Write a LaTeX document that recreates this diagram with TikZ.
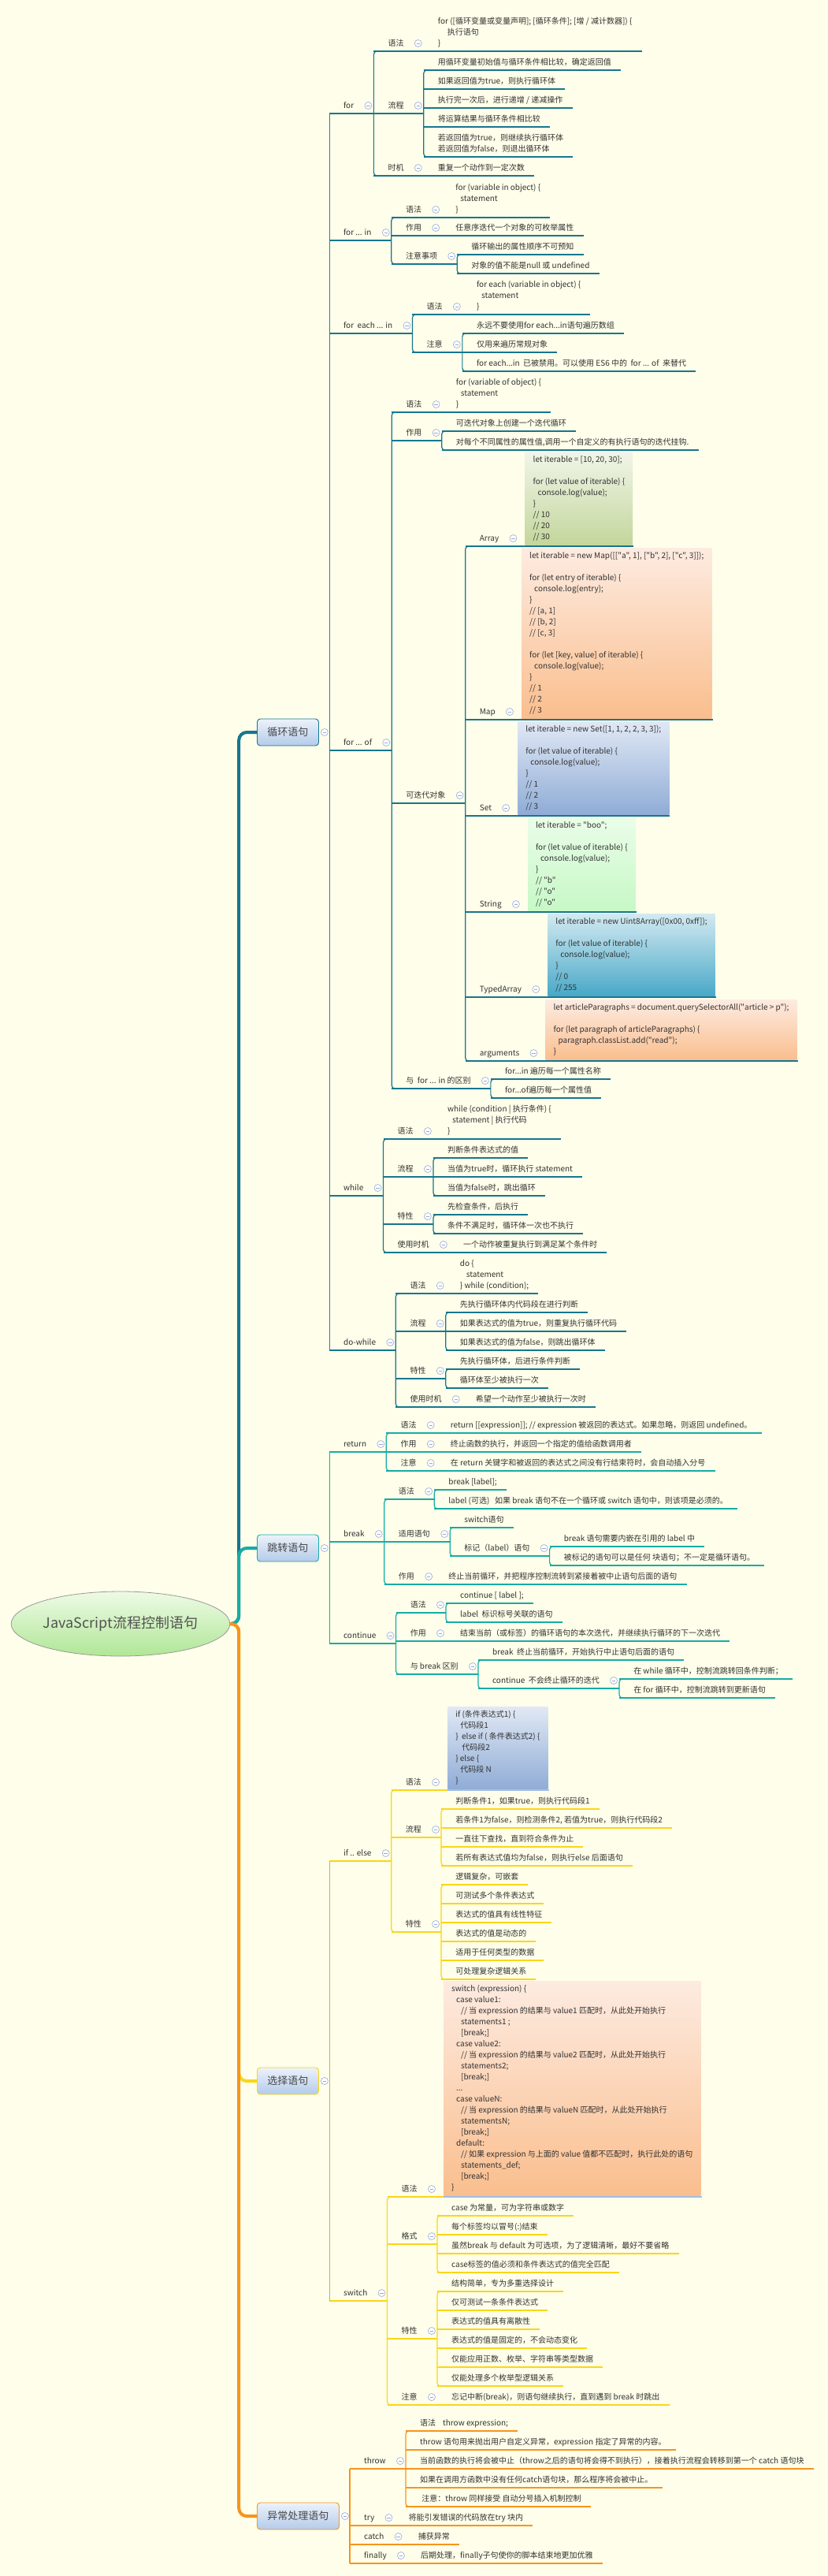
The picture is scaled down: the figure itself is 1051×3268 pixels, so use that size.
\documentclass[tikz,border=0pt]{standalone}
\usepackage{fontspec}
\setmainfont{Noto Sans CJK SC}[Ligatures=TeXOff]
\usetikzlibrary{shapes.geometric}

\definecolor{bgc}{RGB}{254,254,234}
\definecolor{txtc}{RGB}{50,50,50}
\definecolor{loopc}{RGB}{22,118,142}
\definecolor{jumpc}{RGB}{22,172,164}
\definecolor{selc}{RGB}{250,214,24}
\definecolor{excc}{RGB}{247,148,29}
\definecolor{codeul}{RGB}{160,190,228}
\definecolor{btnc}{RGB}{150,168,215}
\definecolor{catT}{RGB}{236,242,251}
\definecolor{catB}{RGB}{180,203,233}
\definecolor{rootT}{RGB}{238,251,230}
\definecolor{rootB}{RGB}{176,230,150}
\colorlet{brc}{loopc}

\newcommand{\mmstrut}{\rule[-4pt]{0pt}{14pt}}
\newcommand{\nxl}{\\\mmstrut}
\newcommand{\mmind}{\hspace*{6pt}}

\tikzset{
  txt/.style={anchor=south west, inner sep=0pt, align=left, text=txtc,
    font=\fontsize{10}{14}\selectfont},
  codebox/.style={anchor=south west, inner xsep=10pt, inner ysep=3pt, align=left,
    text=txtc, font=\fontsize{10}{14}\selectfont},
  ul/.style={draw=brc, line width=1.2pt},
  brk/.style={draw=brc, line width=1.2pt, rounded corners=4pt},
  lvl/.style={draw=brc!60!gray, line width=0.8pt},
  btn/.style={circle, draw=btnc, fill=white, line width=0.6pt, minimum size=9pt,
    inner sep=0pt, path picture={\draw[btnc, line width=0.8pt]
      ([xshift=-2.2pt]path picture bounding box.center) --
      ([xshift=2.2pt]path picture bounding box.center);}},
  cat/.style={rounded corners=4pt, line width=0.9pt, top color=catT, bottom color=catB,
    minimum height=34pt, inner xsep=13pt, inner ysep=0pt, anchor=west,
    text=black!72, font=\fontsize{13}{16}\selectfont},
  root/.style={ellipse, draw=gray!80, line width=0.8pt, top color=rootT,
    bottom color=rootB, minimum width=276pt, minimum height=82pt, inner sep=0pt,
    text=black!68, font=\fontsize{18}{22}\selectfont},
  trunk/.style={line width=4pt, rounded corners=10pt},
  greenfill/.style={top color={rgb,255:red,241;green,245;blue,233}, bottom color={rgb,255:red,195;green,214;blue,155}},
  peachfill/.style={top color={rgb,255:red,253;green,235;blue,224}, bottom color={rgb,255:red,250;green,190;blue,142}},
  bluefill/.style={top color={rgb,255:red,224;green,232;blue,244}, bottom color={rgb,255:red,143;green,172;blue,214}},
  mintfill/.style={top color={rgb,255:red,234;green,253;blue,232}, bottom color={rgb,255:red,198;green,248;blue,198}},
  tealfill/.style={top color={rgb,255:red,210;green,233;blue,241}, bottom color={rgb,255:red,72;green,168;blue,200}},
}

% topic with children: name, parent, underline y, text
\newcommand{\mmfold}[4]{%
  \coordinate (l#1) at (r#2 |- 0,#3);
  \node[txt] (#1) at ([shift={(18pt,2pt)}]l#1) {\mmstrut #4};
  \path (l#1 -| #1.east) ++(25pt,0) coordinate (r#1);
  \draw[ul] (l#1) -- (r#1);
  \node[btn] (b#1) at ([shift={(-7pt,10pt)}]r#1) {};
}
% leaf topic: name, parent, underline y, text
\newcommand{\mmleaf}[4]{%
  \coordinate (l#1) at (r#2 |- 0,#3);
  \node[txt] (#1) at ([shift={(18pt,2pt)}]l#1) {\mmstrut #4};
  \path (l#1 -| #1.east) ++(12pt,0) coordinate (r#1);
  \draw[ul] (l#1) -- (r#1);
}
% code topic: name, parent, underline y, fill, text
\newcommand{\mmcode}[5]{%
  \coordinate (l#1) at (r#2 |- 0,#3);
  \node[codebox, #4] (#1) at ([shift={(8pt,1pt)}]l#1) {\mmstrut #5};
  \path (l#1 -| #1.east) ++(1pt,0) coordinate (r#1);
  \draw[ul] (l#1) -- (r#1);
}
% bracket joining first and last child
\newcommand{\mmkids}[2]{\draw[brk] ([xshift=8pt]l#1) -- (l#1) -- (l#2) -- ([xshift=8pt]l#2);}

\begin{document}
\begin{tikzpicture}[x=1pt, y=-1pt]
  \useasboundingbox (0,0) rectangle (1051,3268);
  \fill[bgc] (0,0) rectangle (1051,3268);

  % -- Central topic --
  \node[root] (root) at (153,2060) {JavaScript流程控制语句};

  % -- Main topics --
  \node[cat, draw=loopc] (loop) at (326,929) {循环语句};
  \node[cat, draw=jumpc] (jump) at (326,1964) {跳转语句};
  \node[cat, draw=selc] (sel) at (326,2640) {选择语句};
  \node[cat, draw=excc] (exc) at (326,3192) {异常处理语句};
  \foreach \m in {loop,jump,sel,exc} {
    \node[btn] (b\m) at ([xshift=7pt]\m.east) {};
    \coordinate (r\m) at ([xshift=13pt]\m.east);
  }

  % -- Main branches --
  \draw[trunk, loopc] (root.east) -- ++(11pt,0) |- (loop.west);
  \draw[trunk, selc] (root.east) -- ++(11pt,0) |- (sel.west);
  \draw[trunk, jumpc] (root.east) -- ++(11pt,0) |- (jump.west);
  \draw[trunk, excc] (root.east) -- ++(11pt,0) |- (exc.west);

  % -- Loop statements: for --
  \colorlet{brc}{loopc}
  \mmfold{f1}{loop}{144}{for}
  \mmfold{f1a}{f1}{65}{语法}
  \mmleaf{f1a1}{f1a}{65}{for ([循环变量或变量声明]; [循环条件]; [增 / 减计数器]) \{\nxl\hspace*{12pt}执行语句\nxl\}}
  \mmfold{f1b}{f1}{144}{流程}
  \mmleaf{f1b1}{f1b}{89}{用循环变量初始值与循环条件相比较，确定返回值}
  \mmleaf{f1b2}{f1b}{113}{如果返回值为true，则执行循环体}
  \mmleaf{f1b3}{f1b}{137}{执行完一次后，进行递增 / 递减操作}
  \mmleaf{f1b4}{f1b}{161}{将运算结果与循环条件相比较}
  \mmleaf{f1b5}{f1b}{199}{若返回值为true，则继续执行循环体\nxl 若返回值为false，则退出循环体}
  \mmkids{f1b1}{f1b5}
  \mmfold{f1c}{f1}{223}{时机}
  \mmleaf{f1c1}{f1c}{223}{重复一个动作到一定次数}
  \mmkids{f1a}{f1c}

  % -- for ... in --
  \mmfold{f2}{loop}{305}{for ... in}
  \mmfold{f2a}{f2}{276}{语法}
  \mmleaf{f2a1}{f2a}{276}{for (variable in object) \{\nxl\mmind statement\nxl\}}
  \mmfold{f2b}{f2}{299}{作用}
  \mmleaf{f2b1}{f2b}{299}{任意序迭代一个对象的可枚举属性}
  \mmfold{f2c}{f2}{335}{注意事项}
  \mmleaf{f2c1}{f2c}{323}{循环输出的属性顺序不可预知}
  \mmleaf{f2c2}{f2c}{347}{对象的值不能是null 或 undefined}
  \mmkids{f2c1}{f2c2}
  \mmkids{f2a}{f2c}

  % -- for each ... in --
  \mmfold{f3}{loop}{423}{for\ \ each ... in}
  \mmfold{f3a}{f3}{399}{语法}
  \mmleaf{f3a1}{f3a}{399}{for each (variable in object) \{\nxl\mmind statement\nxl\}}
  \mmfold{f3b}{f3}{447}{注意}
  \mmleaf{f3b1}{f3b}{423}{永远不要使用for each...in语句遍历数组}
  \mmleaf{f3b2}{f3b}{447}{仅用来遍历常规对象}
  \mmleaf{f3b3}{f3b}{471}{for each...in\ \ 已被禁用。可以使用 ES6 中的\ \ for ... of\ \ 来替代}
  \mmkids{f3b1}{f3b3}
  \mmkids{f3a}{f3b}

  % -- for ... of --
  \mmfold{f4}{loop}{952}{for ... of}
  \mmfold{f4a}{f4}{523}{语法}
  \mmleaf{f4a1}{f4a}{523}{for (variable of object) \{\nxl\mmind statement\nxl\}}
  \mmfold{f4b}{f4}{559}{作用}
  \mmleaf{f4b1}{f4b}{547}{可迭代对象上创建一个迭代循环}
  \mmleaf{f4b2}{f4b}{571}{对每个不同属性的属性值,调用一个自定义的有执行语句的迭代挂钩.}
  \mmkids{f4b1}{f4b2}
  \mmfold{f4c}{f4}{1019}{可迭代对象}
  \mmfold{f4c1}{f4c}{693}{Array}
  \mmcode{f4c1a}{f4c1}{693}{greenfill}{let iterable = [10, 20, 30];\nxl\nxl for (let value of iterable) \{\nxl\mmind console.log(value);\nxl\}\nxl// 10\nxl// 20\nxl// 30}
  \mmfold{f4c2}{f4c}{913}{Map}
  \mmcode{f4c2a}{f4c2}{913}{peachfill}{let iterable = new Map([["a", 1], ["b", 2], ["c", 3]]);\nxl\nxl for (let entry of iterable) \{\nxl\mmind console.log(entry);\nxl\}\nxl// [a, 1]\nxl// [b, 2]\nxl// [c, 3]\nxl\nxl for (let [key, value] of iterable) \{\nxl\mmind console.log(value);\nxl\}\nxl// 1\nxl// 2\nxl// 3}
  \mmfold{f4c3}{f4c}{1035}{Set}
  \mmcode{f4c3a}{f4c3}{1035}{bluefill}{let iterable = new Set([1, 1, 2, 2, 3, 3]);\nxl\nxl for (let value of iterable) \{\nxl\mmind console.log(value);\nxl\}\nxl// 1\nxl// 2\nxl// 3}
  \mmfold{f4c4}{f4c}{1157}{String}
  \mmcode{f4c4a}{f4c4}{1157}{mintfill}{let iterable = "boo";\nxl\nxl for (let value of iterable) \{\nxl\mmind console.log(value);\nxl\}\nxl// "b"\nxl// "o"\nxl// "o"}
  \mmfold{f4c5}{f4c}{1265}{TypedArray}
  \mmcode{f4c5a}{f4c5}{1265}{tealfill}{let iterable = new Uint8Array([0x00, 0xff]);\nxl\nxl for (let value of iterable) \{\nxl\mmind console.log(value);\nxl\}\nxl// 0\nxl// 255}
  \mmfold{f4c6}{f4c}{1346}{arguments}
  \mmcode{f4c6a}{f4c6}{1346}{peachfill}{let articleParagraphs = document.querySelectorAll("article > p");\nxl\nxl for (let paragraph of articleParagraphs) \{\nxl\mmind paragraph.classList.add("read");\nxl\}}
  \mmkids{f4c1}{f4c6}
  \mmfold{f4d}{f4}{1381}{与\ \ for ... in 的区别}
  \mmleaf{f4d1}{f4d}{1369}{for...in 遍历每一个属性名称}
  \mmleaf{f4d2}{f4d}{1393}{for...of遍历每一个属性值}
  \mmkids{f4d1}{f4d2}
  \mmkids{f4a}{f4d}

  % -- while --
  \mmfold{f5}{loop}{1517}{while}
  \mmfold{f5a}{f5}{1445}{语法}
  \mmleaf{f5a1}{f5a}{1445}{while (condition | 执行条件) \{\nxl\mmind statement | 执行代码\nxl\}}
  \mmfold{f5b}{f5}{1493}{流程}
  \mmleaf{f5b1}{f5b}{1469}{判断条件表达式的值}
  \mmleaf{f5b2}{f5b}{1493}{当值为true时，循环执行 statement}
  \mmleaf{f5b3}{f5b}{1517}{当值为false时，跳出循环}
  \mmkids{f5b1}{f5b3}
  \mmfold{f5c}{f5}{1553}{特性}
  \mmleaf{f5c1}{f5c}{1541}{先检查条件，后执行}
  \mmleaf{f5c2}{f5c}{1565}{条件不满足时，循环体一次也不执行}
  \mmkids{f5c1}{f5c2}
  \mmfold{f5d}{f5}{1589}{使用时机}
  \mmleaf{f5d1}{f5d}{1589}{一个动作被重复执行到满足某个条件时}
  \mmkids{f5a}{f5d}

  % -- do-while --
  \mmfold{f6}{loop}{1713}{do-while}
  \mmfold{f6a}{f6}{1641}{语法}
  \mmleaf{f6a1}{f6a}{1641}{do \{\nxl\hspace*{8pt}statement\nxl\} while (condition);}
  \mmfold{f6b}{f6}{1689}{流程}
  \mmleaf{f6b1}{f6b}{1665}{先执行循环体内代码段在进行判断}
  \mmleaf{f6b2}{f6b}{1689}{如果表达式的值为true，则重复执行循环代码}
  \mmleaf{f6b3}{f6b}{1713}{如果表达式的值为false，则跳出循环体}
  \mmkids{f6b1}{f6b3}
  \mmfold{f6c}{f6}{1749}{特性}
  \mmleaf{f6c1}{f6c}{1737}{先执行循环体，后进行条件判断}
  \mmleaf{f6c2}{f6c}{1761}{循环体至少被执行一次}
  \mmkids{f6c1}{f6c2}
  \mmfold{f6d}{f6}{1785}{使用时机}
  \mmleaf{f6d1}{f6d}{1785}{希望一个动作至少被执行一次时}
  \mmkids{f6a}{f6d}
  \draw[lvl] (lf1) -- (lf6);

  % -- Jump statements --
  \colorlet{brc}{jumpc}
  \mmfold{j1}{jump}{1842}{return}
  \mmfold{j1a}{j1}{1818}{语法}
  \mmleaf{j1a1}{j1a}{1818}{return [[expression]]; // expression 被返回的表达式。如果忽略，则返回 undefined。}
  \mmfold{j1b}{j1}{1842}{作用}
  \mmleaf{j1b1}{j1b}{1842}{终止函数的执行，并返回一个指定的值给函数调用者}
  \mmfold{j1c}{j1}{1866}{注意}
  \mmleaf{j1c1}{j1c}{1866}{在 return 关键字和被返回的表达式之间没有行结束符时，会自动插入分号}
  \mmkids{j1a}{j1c}

  \mmfold{j2}{jump}{1956}{break}
  \mmfold{j2a}{j2}{1902}{语法}
  \mmleaf{j2a1}{j2a}{1890}{break [label];}
  \mmleaf{j2a2}{j2a}{1914}{label (可选)\ \ \ 如果 break 语句不在一个循环或 switch 语句中，则该项是必须的。}
  \mmkids{j2a1}{j2a2}
  \mmfold{j2b}{j2}{1956}{适用语句}
  \mmleaf{j2b1}{j2b}{1938}{switch语句}
  \mmfold{j2b2}{j2b}{1974}{标记（label）语句}
  \mmleaf{j2b2a}{j2b2}{1962}{break 语句需要内嵌在引用的 label 中}
  \mmleaf{j2b2b}{j2b2}{1986}{被标记的语句可以是任何 块语句；不一定是循环语句。}
  \mmkids{j2b2a}{j2b2b}
  \mmkids{j2b1}{j2b2}
  \mmfold{j2c}{j2}{2010}{作用}
  \mmleaf{j2c1}{j2c}{2010}{终止当前循环，并把程序控制流转到紧接着被中止语句后面的语句}
  \mmkids{j2a}{j2c}

  \mmfold{j3}{jump}{2085}{continue}
  \mmfold{j3a}{j3}{2046}{语法}
  \mmleaf{j3a1}{j3a}{2034}{continue [ label ];}
  \mmleaf{j3a2}{j3a}{2058}{label\ \ 标识标号关联的语句}
  \mmkids{j3a1}{j3a2}
  \mmfold{j3b}{j3}{2082}{作用}
  \mmleaf{j3b1}{j3b}{2082}{结束当前（或标签）的循环语句的本次迭代，并继续执行循环的下一次迭代}
  \mmfold{j3c}{j3}{2124}{与 break 区别}
  \mmleaf{j3c1}{j3c}{2106}{break\ \ 终止当前循环，开始执行中止语句后面的语句}
  \mmfold{j3c2}{j3c}{2142}{continue\ \ 不会终止循环的迭代}
  \mmleaf{j3c2a}{j3c2}{2130}{在 while 循环中，控制流跳转回条件判断；}
  \mmleaf{j3c2b}{j3c2}{2154}{在 for 循环中，控制流跳转到更新语句}
  \mmkids{j3c2a}{j3c2b}
  \mmkids{j3c1}{j3c2}
  \mmkids{j3a}{j3c}
  \draw[lvl] (lj1) -- (lj3);

  % -- Selection statements --
  \colorlet{brc}{selc}
  \mmfold{s1}{sel}{2361}{if .. else}
  \mmfold{s1a}{s1}{2271}{语法}
  \mmcode{s1a1}{s1a}{2271}{bluefill}{if (条件表达式1) \{\nxl\mmind 代码段1\nxl\}\ \ else if ( 条件表达式2) \{\nxl\hspace*{8pt}代码段2\nxl\} else \{\nxl\mmind 代码段 N\nxl\}}
  \draw[ul, draw=codeul] (ls1a1 -| s1a1.west) -- (rs1a1);
  \mmfold{s1b}{s1}{2331}{流程}
  \mmleaf{s1b1}{s1b}{2295}{判断条件1，如果true，则执行代码段1}
  \mmleaf{s1b2}{s1b}{2319}{若条件1为false，则检测条件2, 若值为true，则执行代码段2}
  \mmleaf{s1b3}{s1b}{2343}{一直往下查找，直到符合条件为止}
  \mmleaf{s1b4}{s1b}{2367}{若所有表达式值均为false，则执行else 后面语句}
  \mmkids{s1b1}{s1b4}
  \mmfold{s1c}{s1}{2451}{特性}
  \mmleaf{s1c1}{s1c}{2391}{逻辑复杂，可嵌套}
  \mmleaf{s1c2}{s1c}{2415}{可测试多个条件表达式}
  \mmleaf{s1c3}{s1c}{2439}{表达式的值具有线性特征}
  \mmleaf{s1c4}{s1c}{2463}{表达式的值是动态的}
  \mmleaf{s1c5}{s1c}{2487}{适用于任何类型的数据}
  \mmleaf{s1c6}{s1c}{2511}{可处理复杂逻辑关系}
  \mmkids{s1c1}{s1c6}
  \mmkids{s1a}{s1c}

  \mmfold{s2}{sel}{2919}{switch}
  \mmfold{s2a}{s2}{2787}{语法}
  \mmcode{s2a1}{s2a}{2787}{peachfill}{switch (expression) \{\nxl\mmind case value1:\nxl\mmind\mmind // 当 expression 的结果与 value1 匹配时，从此处开始执行\nxl\mmind\mmind statements1 ;\nxl\mmind\mmind [break;]\nxl\mmind case value2:\nxl\mmind\mmind // 当 expression 的结果与 value2 匹配时，从此处开始执行\nxl\mmind\mmind statements2;\nxl\mmind\mmind [break;]\nxl\mmind ...\nxl\mmind case valueN:\nxl\mmind\mmind // 当 expression 的结果与 valueN 匹配时，从此处开始执行\nxl\mmind\mmind statementsN;\nxl\mmind\mmind [break;]\nxl\mmind default:\nxl\mmind\mmind // 如果 expression 与上面的 value 值都不匹配时，执行此处的语句\nxl\mmind\mmind statements\_def;\nxl\mmind\mmind [break;]\nxl\}}
  \draw[ul, draw=codeul] (ls2a1 -| s2a1.west) -- (rs2a1);
  \mmfold{s2b}{s2}{2847}{格式}
  \mmleaf{s2b1}{s2b}{2811}{case 为常量，可为字符串或数字}
  \mmleaf{s2b2}{s2b}{2835}{每个标签均以冒号(:)结束}
  \mmleaf{s2b3}{s2b}{2859}{虽然break 与 default 为可选项，为了逻辑清晰，最好不要省略}
  \mmleaf{s2b4}{s2b}{2883}{case标签的值必须和条件表达式的值完全匹配}
  \mmkids{s2b1}{s2b4}
  \mmfold{s2c}{s2}{2967}{特性}
  \mmleaf{s2c1}{s2c}{2907}{结构简单，专为多重选择设计}
  \mmleaf{s2c2}{s2c}{2931}{仅可测试一条条件表达式}
  \mmleaf{s2c3}{s2c}{2955}{表达式的值具有离散性}
  \mmleaf{s2c4}{s2c}{2979}{表达式的值是固定的，不会动态变化}
  \mmleaf{s2c5}{s2c}{3003}{仅能应用正数、枚举、字符串等类型数据}
  \mmleaf{s2c6}{s2c}{3027}{仅能处理多个枚举型逻辑关系}
  \mmkids{s2c1}{s2c6}
  \mmfold{s2d}{s2}{3051}{注意}
  \mmleaf{s2d1}{s2d}{3051}{忘记中断(break)，则语句继续执行，直到遇到 break 时跳出}
  \mmkids{s2a}{s2d}
  \draw[lvl] (ls1) -- (ls2);

  % -- Exception handling --
  \colorlet{brc}{excc}
  \mmfold{e1}{exc}{3132}{throw}
  \mmleaf{e1a}{e1}{3084}{语法\ \ \ \ throw expression;}
  \mmleaf{e1b}{e1}{3108}{throw 语句用来抛出用户自定义异常，expression 指定了异常的内容。}
  \mmleaf{e1c}{e1}{3132}{当前函数的执行将会被中止（throw之后的语句将会得不到执行），接着执行流程会转移到第一个 catch 语句块}
  \mmleaf{e1d}{e1}{3156}{如果在调用方函数中没有任何catch语句块，那么程序将会被中止。}
  \mmleaf{e1e}{e1}{3180}{\ 注意：throw 同样接受 自动分号插入机制控制}
  \mmkids{e1a}{e1e}
  \mmfold{e2}{exc}{3204}{try}
  \mmleaf{e2a}{e2}{3204}{将能引发错误的代码放在try 块内}
  \mmfold{e3}{exc}{3228}{catch}
  \mmleaf{e3a}{e3}{3228}{捕获异常}
  \mmfold{e4}{exc}{3252}{finally}
  \mmleaf{e4a}{e4}{3252}{后期处理，finally子句使你的脚本结束地更加优雅}
  \draw[ul] (le1) -- (le4);

\end{tikzpicture}
\end{document}
